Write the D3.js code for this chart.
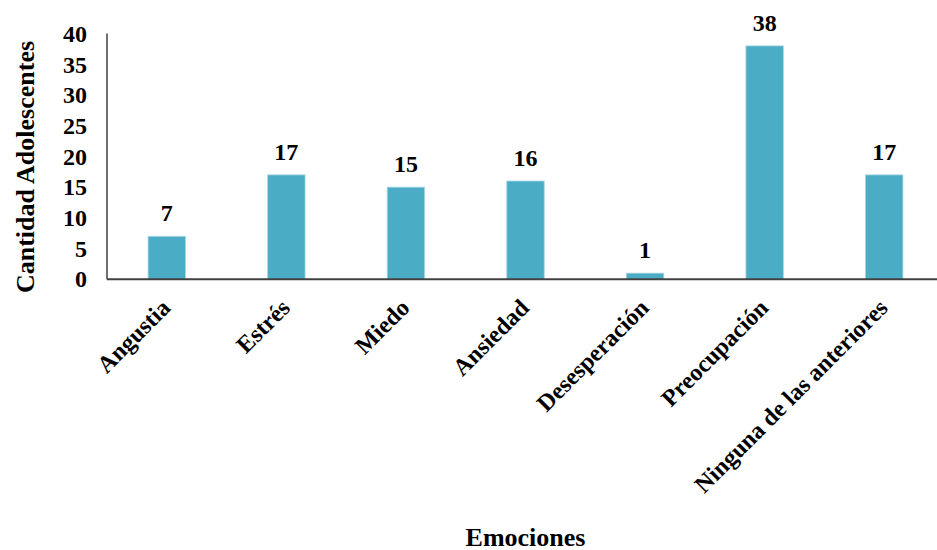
<!DOCTYPE html>
<html>
<head>
<meta charset="utf-8">
<script src="https://cdn.jsdelivr.net/npm/d3@7"></script>
</head>
<body style="margin:0;background:#fff">
<svg id="chart" width="937" height="550"></svg>
<script>
// Emotions reported by the adolescents, and how many chose each one
const categories = ["Angustia", "Estrés", "Miedo", "Ansiedad", "Desesperación", "Preocupación", "Ninguna de las anteriores"];
const counts = [7, 17, 15, 16, 1, 38, 17];
const yTicks = [0, 5, 10, 15, 20, 25, 30, 35, 40];
const xTitle = "Emociones";
const yTitle = "Cantidad Adolescentes";

const FONT = "Liberation Serif";
const svg = d3.select("#chart");
const plot = { left: 107, right: 944, top: 33.6, bottom: 279.3 };

const x = d3.scaleBand()
  .domain(categories)
  .range([plot.left, plot.right])
  .paddingInner(0.687)
  .paddingOuter(0.3435);

const y = d3.scaleLinear()
  .domain([0, 40])
  .range([plot.bottom, plot.top]);

// Bars
svg.append("g")
  .selectAll("rect")
  .data(categories)
  .join("rect")
  .attr("x", d => x(d))
  .attr("width", x.bandwidth())
  .attr("y", (d, i) => y(counts[i]))
  .attr("height", (d, i) => y(0) - y(counts[i]))
  .attr("fill", "#4BACC6")
  .attr("stroke", "#a8d6e3")
  .attr("stroke-width", 0.8);

// Value labels above each bar
svg.append("g")
  .selectAll("text")
  .data(categories)
  .join("text")
  .attr("x", d => x(d) + x.bandwidth() / 2)
  .attr("y", (d, i) => y(counts[i]) - 15)
  .attr("text-anchor", "middle")
  .attr("font-family", FONT)
  .attr("font-weight", "bold")
  .attr("font-size", 24)
  .attr("fill", "#000")
  .text((d, i) => counts[i]);

// Y axis: labels only, plus the vertical rule
const yAxis = svg.append("g")
  .attr("transform", `translate(${plot.left},0)`)
  .call(d3.axisLeft(y).tickValues(yTicks).tickSize(0).tickPadding(20));
yAxis.attr("font-family", FONT).attr("font-size", 24).attr("font-weight", "bold");
yAxis.select(".domain").remove();
yAxis.selectAll("text").attr("fill", "#000");

svg.append("line")
  .attr("x1", plot.left).attr("x2", plot.left)
  .attr("y1", y(40)).attr("y2", y(0))
  .attr("stroke", "#404040").attr("stroke-width", 1.5);

// X axis baseline and rotated category labels
const xAxis = svg.append("g")
  .attr("transform", `translate(0,${y(0)})`)
  .call(d3.axisBottom(x).tickSize(0).tickPadding(0));
xAxis.attr("font-family", FONT).attr("font-size", 24).attr("font-weight", "bold");
xAxis.select(".domain").remove();
xAxis.selectAll("text")
  .attr("fill", "#000")
  .attr("text-anchor", "end")
  .attr("dy", null)
  .attr("y", 0)
  .attr("transform", "translate(5,30) rotate(-45)");

svg.append("line")
  .attr("x1", plot.left).attr("x2", 937)
  .attr("y1", y(0)).attr("y2", y(0))
  .attr("stroke", "#404040").attr("stroke-width", 2);

// Axis titles
svg.append("text")
  .attr("x", (plot.left + plot.right) / 2)
  .attr("y", 545.5)
  .attr("text-anchor", "middle")
  .attr("font-family", FONT)
  .attr("font-weight", "bold")
  .attr("font-size", 26)
  .attr("fill", "#000")
  .text(xTitle);

svg.append("text")
  .attr("transform", `translate(34,${167}) rotate(-90)`)
  .attr("text-anchor", "middle")
  .attr("font-family", FONT)
  .attr("font-weight", "bold")
  .attr("font-size", 26)
  .attr("fill", "#000")
  .text(yTitle);
</script>
</body>
</html>
